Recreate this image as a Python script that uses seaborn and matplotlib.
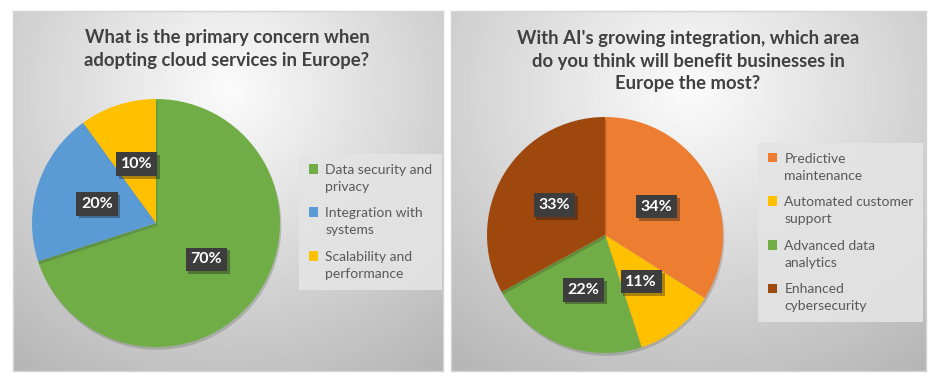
import numpy as np
import matplotlib
matplotlib.use('Agg')
import matplotlib.pyplot as plt
import matplotlib.patheffects as pe
from matplotlib.patches import Patch
import seaborn as sns

# Dados
titulo_1 = 'What is the primary concern when\nadopting cloud services in Europe?'
categorias_1 = ['Data security and\nprivacy', 'Integration with\nsystems', 'Scalability and\nperformance']
valores_1 = [70, 20, 10]
cores_1 = ['#70AD47', '#5B9BD5', '#FFC000']

titulo_2 = "With AI's growing integration, which area\ndo you think will benefit businesses in\nEurope the most?"
categorias_2 = ['Predictive\nmaintenance', 'Automated customer\nsupport', 'Advanced data\nanalytics', 'Enhanced\ncybersecurity']
valores_2 = [34, 11, 22, 33]
cores_2 = ['#ED7D31', '#FFC000', '#70AD47', '#9E480E']

sns.set_theme(style='white')
plt.rcParams['font.family'] = ['Lato', 'DejaVu Sans']

W, H = 938, 384
fig = plt.figure(figsize=(W / 100, H / 100), dpi=100)
fig.patch.set_facecolor('white')


def px(x0, y0, x1, y1):
    # retângulo em pixels (origem no topo) -> coordenadas da figura
    return [x0 / W, 1 - y1 / H, (x1 - x0) / W, (y1 - y0) / H]


def painel(rect):
    ax = fig.add_axes(rect)
    yy, xx = np.mgrid[0:1:200j, 0:1:200j]
    d = np.sqrt(((xx - 0.5) * 1.1) ** 2 + ((yy - 0.22) * 0.95) ** 2)
    g = 0.985 - 0.30 * np.clip(d, 0, 1)
    ax.imshow(g, cmap='gray', vmin=0, vmax=1, aspect='auto', extent=(0, 1, 1, 0))
    ax.set_xticks([])
    ax.set_yticks([])
    for s in ax.spines.values():
        s.set_color('#d4d4d4')
        s.set_linewidth(1)
    return ax


def pizza(rect, valores, cores):
    ax = fig.add_axes(rect)
    wedges, _, autotexts = ax.pie(
        valores, colors=cores, startangle=90, counterclock=False,
        autopct='%1.0f%%', pctdistance=0.5, radius=1,
        wedgeprops=dict(linewidth=0),
        textprops=dict(color='white', fontsize=11.5, fontweight='bold'))
    for w in wedges:
        w.set_path_effects([pe.SimplePatchShadow(offset=(1, -2), alpha=0.2), pe.Normal()])
    for t in autotexts:
        t.set_bbox(dict(boxstyle='square,pad=0.3', fc='#3d3d3d', ec='none'))
        t.get_bbox_patch().set_path_effects([pe.SimplePatchShadow(offset=(2, -2), alpha=0.35), pe.Normal()])
    ax.set_xlim(-1, 1)
    ax.set_ylim(-1, 1)
    ax.set_aspect('equal')
    ax.axis('off')
    return ax


def legenda(categorias, cores, loc_px):
    handles = [Patch(facecolor=c, edgecolor='none') for c in cores]
    leg = fig.legend(handles, categorias, loc='upper left',
                     bbox_to_anchor=(loc_px[0] / W, 1 - loc_px[1] / H),
                     borderaxespad=0, frameon=True, fancybox=False, fontsize=10,
                     handlelength=0.7, handleheight=0.7, handletextpad=0.5,
                     labelspacing=1.05, borderpad=0.7, labelcolor='#595959')
    leg.get_frame().set_facecolor('#e4e4e4')
    leg.get_frame().set_edgecolor('none')
    leg.get_frame().set_alpha(0.9)
    for t in leg.get_texts():
        t.set_linespacing(1.5)
    for h in leg.legend_handles:
        h.set_y(h.get_y() + 7)
    return leg


# Painel 1
painel(px(13, 11, 443, 371))
fig.text(227 / W, 1 - 49 / H, titulo_1, ha='center', va='center', fontsize=13.3,
         fontweight='bold', color='#404040', linespacing=1.4)
pizza(px(156 - 124, 223 - 124, 156 + 124, 223 + 124), valores_1, cores_1)
legenda(categorias_1, cores_1, (299, 154))

# Painel 2
painel(px(451, 11, 926, 371))
fig.text(688 / W, 1 - 61 / H, titulo_2, ha='center', va='center', fontsize=13.3,
         fontweight='bold', color='#404040', linespacing=1.4)
pizza(px(605 - 118, 235 - 118, 605 + 118, 235 + 118), valores_2, cores_2)
legenda(categorias_2, cores_2, (758, 143))

plt.savefig('out.png', dpi=100)
